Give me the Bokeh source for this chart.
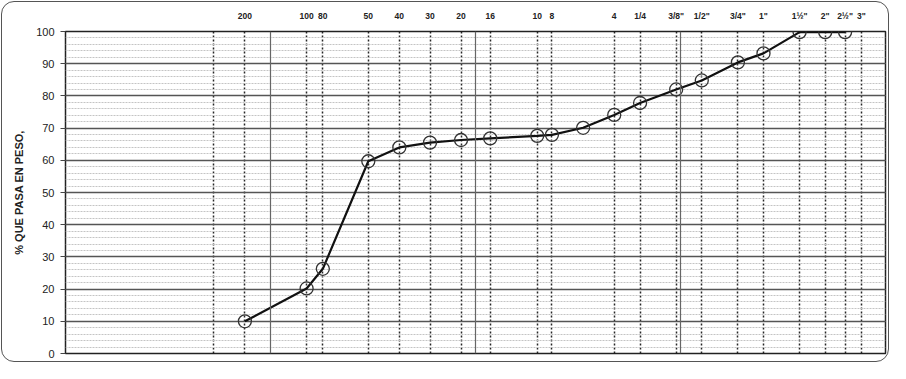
from bokeh.plotting import figure
from bokeh.models import FixedTicker, CustomJSTickFormatter, Span, Range1d
from bokeh.embed import file_html
from bokeh.resources import INLINE

# Sieve designations (top axis) and their openings in mm
sieve_names = ["", "200", "100", "80", "50", "40", "30", "20", "16", "10", "8",
               "4", "1/4", '3/8"', '1/2"', '3/4"', '1"', '1½"', '2"', '2½"', '3"']
sieve_mm = [0.053, 0.075, 0.15, 0.18, 0.30, 0.425, 0.60, 0.85, 1.18, 2.00, 2.36,
            4.75, 6.35, 9.525, 12.7, 19.05, 25.4, 38.1, 50.8, 63.5, 76.2]

# Measured gradation (% passing by weight)
sample_mm = [0.075, 0.15, 0.18, 0.30, 0.425, 0.60, 0.85, 1.18, 2.00, 2.36, 3.35,
             4.75, 6.35, 9.525, 12.7, 19.05, 25.4, 38.1, 50.8, 63.5]
pass_pct = [10.0, 20.2, 26.3, 59.7, 64.0, 65.5, 66.3, 66.8, 67.6, 67.9, 70.1,
            74.1, 77.8, 82.0, 84.8, 90.4, 93.2, 99.8, 99.8, 99.8]

decade_lines = [0.1, 1, 10]
y_major = list(range(0, 101, 10))
y_minor = list(range(0, 101, 2))

FONT = "Liberation Sans"

p = figure(width=890, height=363, x_axis_type="log",
           x_range=Range1d(0.01, 100), y_range=Range1d(0, 100),
           x_axis_location="above", output_backend="svg", toolbar_location=None,
           min_border_left=65, min_border_right=5, min_border_top=31, min_border_bottom=10)

p.styles = {"outline": "1.5px solid #555", "outline-offset": "-2px", "border-radius": "14px"}
p.background_fill_color = "white"
p.border_fill_color = None
p.outline_line_color = "#222"
p.outline_line_width = 1.5

# top axis with sieve designations
xa = p.xaxis[0]
xa.ticker = FixedTicker(ticks=sieve_mm, minor_ticks=[])
xa.formatter = CustomJSTickFormatter(args=dict(sizes=sieve_mm, names=sieve_names), code="""
for (let i = 0; i < sizes.length; i++) {
  if (Math.abs(sizes[i] - tick) / sizes[i] < 1e-6) { return names[i]; }
}
return "";
""")
xa.axis_line_color = None
xa.major_tick_line_color = None
xa.minor_tick_line_color = None
xa.major_label_standoff = 5
xa.major_label_text_font = FONT
xa.major_label_text_font_size = "8.5px"
xa.major_label_text_font_style = "bold"
xa.major_label_text_color = "#222"

p.xgrid.grid_line_color = "#111"
p.xgrid.grid_line_dash = "2 2"
p.xgrid.grid_line_width = 1.5
p.xgrid.grid_line_alpha = 0.9

for v in decade_lines:
    p.add_layout(Span(location=v, dimension="height", line_color="#666", line_width=1.2))

# left axis
ya = p.yaxis[0]
ya.ticker = FixedTicker(ticks=y_major, minor_ticks=y_minor)
ya.axis_line_color = None
ya.major_tick_out = 5
ya.major_tick_in = 0
ya.major_tick_line_color = "#444"
ya.minor_tick_line_color = None
ya.major_label_standoff = 6
ya.major_label_text_font = FONT
ya.major_label_text_font_size = "11px"
ya.major_label_text_color = "#222"
ya.axis_label = "% QUE PASA EN PESO,"
ya.axis_label_text_font = FONT
ya.axis_label_text_font_size = "11px"
ya.axis_label_text_font_style = "bold"
ya.axis_label_text_color = "#222"
ya.axis_label_standoff = 8

p.ygrid.grid_line_color = "#555"
p.ygrid.grid_line_width = 1.3
p.ygrid.minor_grid_line_color = "#c4c4c4"
p.ygrid.minor_grid_line_dash = "2 1"
p.ygrid.minor_grid_line_width = 1

# gradation curve
p.line(sample_mm, pass_pct, line_color="#111", line_width=2.2)
p.scatter(sample_mm, pass_pct, size=13, fill_color=None, line_color="#333", line_width=1.3)

open("out.html", "w").write(file_html(p, INLINE))
